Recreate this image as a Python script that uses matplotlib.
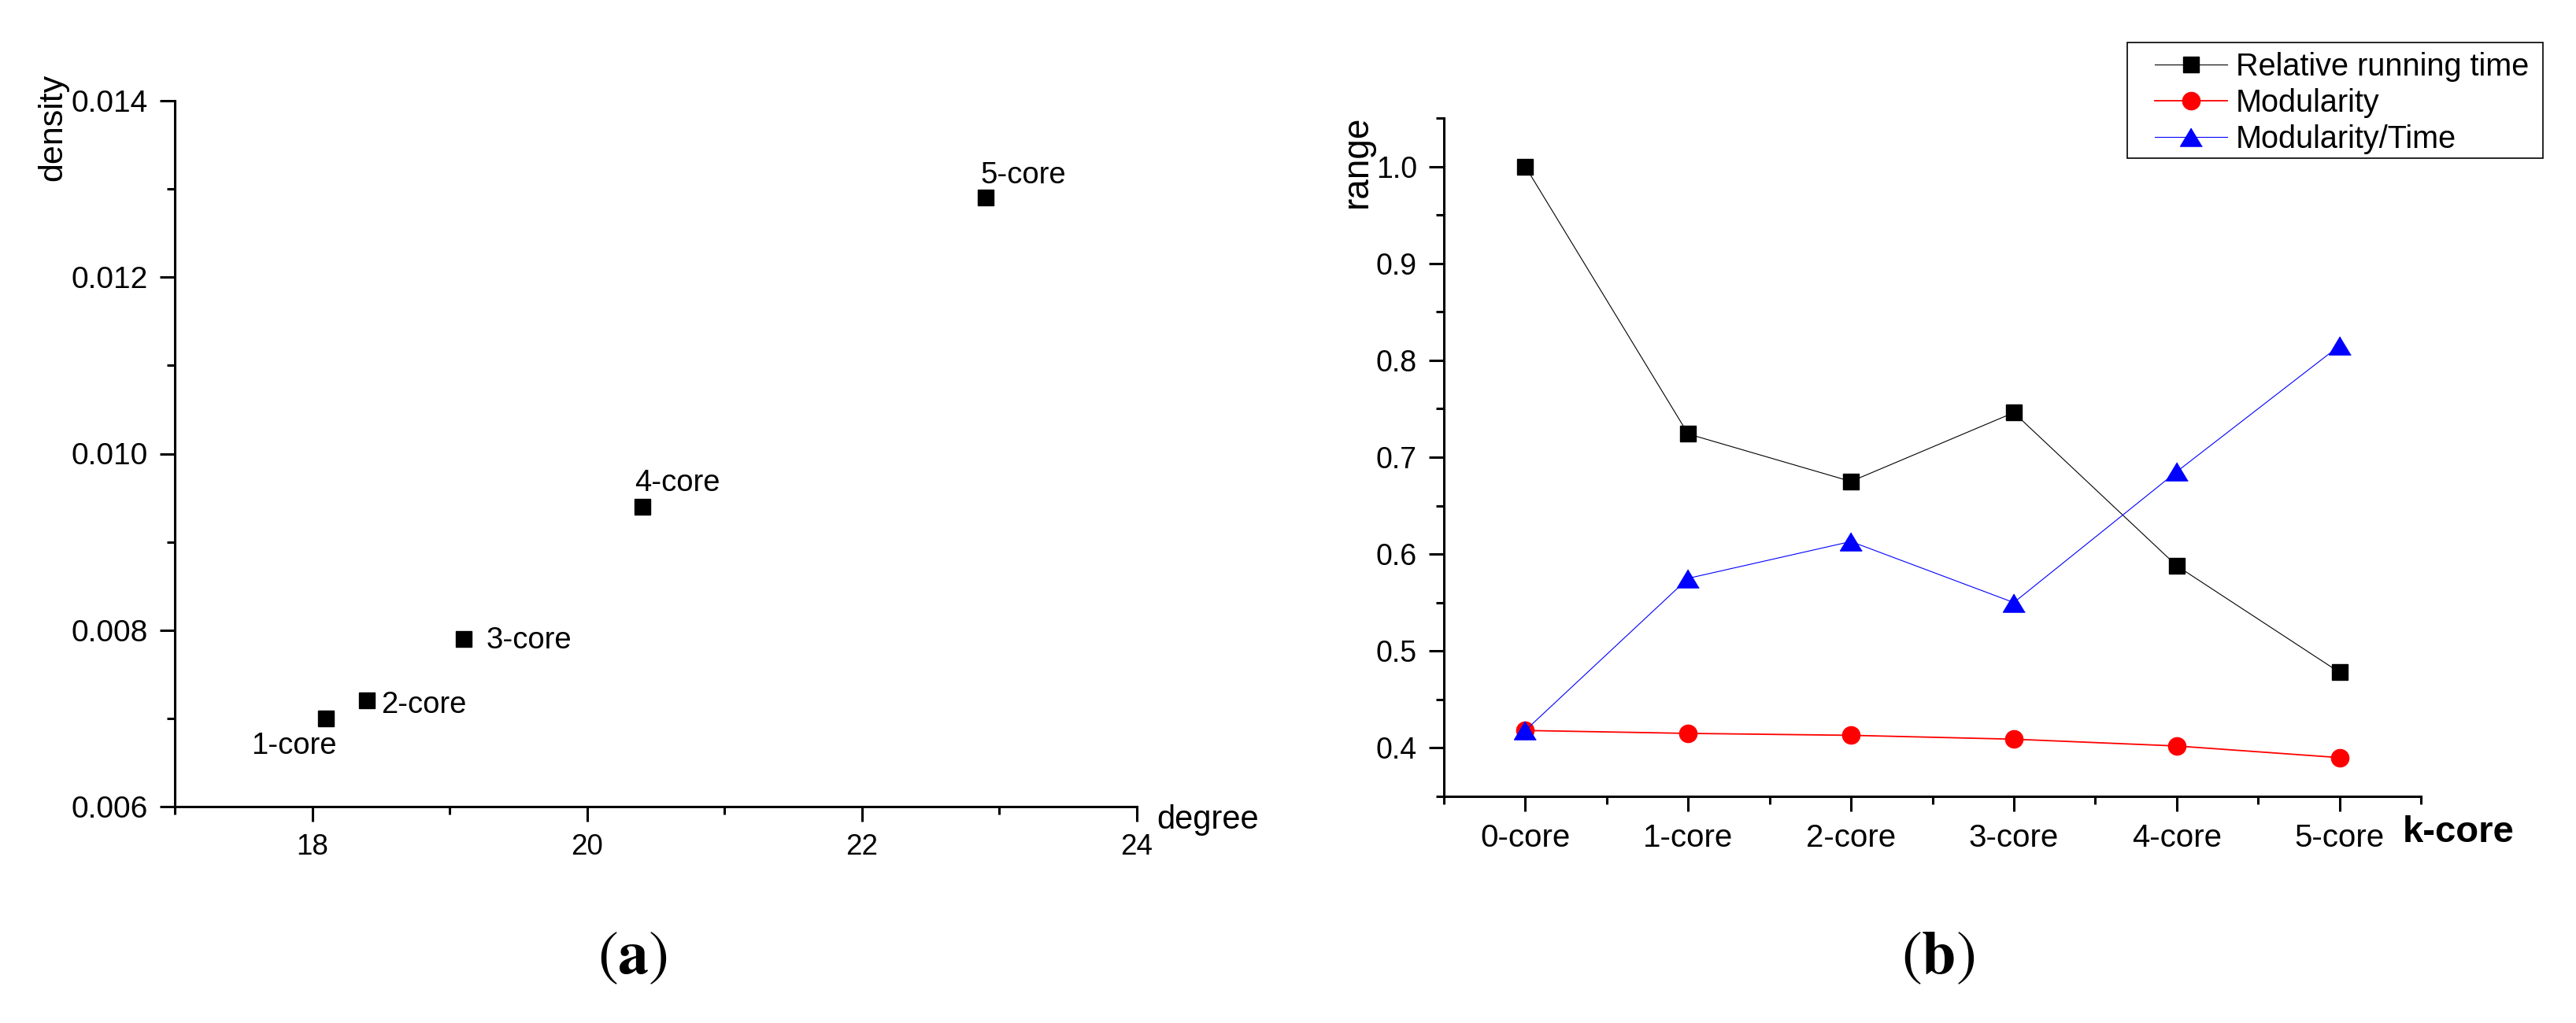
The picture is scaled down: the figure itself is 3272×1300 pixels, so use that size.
import numpy as np
import matplotlib
matplotlib.use("Agg")
import matplotlib.pyplot as plt
from matplotlib.patches import Rectangle
from matplotlib.ticker import MultipleLocator, FixedLocator

plt.rcParams['font.family'] = ['Liberation Sans', 'DejaVu Sans']
plt.rcParams['mathtext.fontset'] = 'stix'

# (a) degree vs density of each k-core
degree = [18.1, 18.4, 19.1, 20.4, 22.9]
density = [0.0070, 0.0072, 0.0079, 0.0094, 0.0129]
core_names = ["1-core", "2-core", "3-core", "4-core", "5-core"]

# (b) measures per k-core
kcores = ["0-core", "1-core", "2-core", "3-core", "4-core", "5-core"]
rel_time = [1.000, 0.724, 0.675, 0.746, 0.588, 0.478]
modularity = [0.418, 0.415, 0.413, 0.409, 0.402, 0.390]
mod_per_time = [0.418, 0.575, 0.613, 0.550, 0.685, 0.815]

# label offsets (points) and alignment for the scatter labels
label_style = [
    dict(xytext=(10, -12), ha="right", va="top"),
    dict(xytext=(13, -11), ha="left", va="baseline"),
    dict(xytext=(21, -9), ha="left", va="baseline"),
    dict(xytext=(-7, 14), ha="left", va="baseline"),
    dict(xytext=(-5, 13), ha="left", va="baseline"),
]

# a slightly wide triangle, like the Origin one
wide_tri = [(0, 1), (-1.2, -1), (1.2, -1)]

W, H = 3272, 1300
fig = plt.figure(figsize=(W / 100, H / 100), dpi=100)


def px_axes(l, t, r, b):
    return fig.add_axes([l / W, 1 - b / H, (r - l) / W, (b - t) / H])


def style_axes(ax):
    ax.spines['top'].set_visible(False)
    ax.spines['right'].set_visible(False)
    for s in ('left', 'bottom'):
        ax.spines[s].set_linewidth(2.2)
    ax.tick_params(which='major', direction='out', length=13.5, width=2.2, pad=11)
    ax.tick_params(which='minor', direction='out', length=7, width=2.2)


# ---- panel (a) ----
ax1 = px_axes(222, 128, 1444, 1025)
ax1.plot(degree, density, linestyle='none', marker='s', color='black', markersize=14)
for x, y, name, st in zip(degree, density, core_names, label_style):
    ax1.annotate(name, (x, y), textcoords='offset points', fontsize=27.5, **st)

ax1.set_xlim(17, 24)
ax1.set_ylim(0.006, 0.014)
ax1.xaxis.set_major_locator(FixedLocator([18, 20, 22, 24]))
ax1.xaxis.set_minor_locator(FixedLocator([17, 19, 21, 23]))
ax1.yaxis.set_major_locator(MultipleLocator(0.002))
ax1.yaxis.set_minor_locator(MultipleLocator(0.001))
ax1.yaxis.set_major_formatter(plt.FormatStrFormatter('%.3f'))
style_axes(ax1)
ax1.tick_params(axis='x', labelsize=26.5)
ax1.tick_params(axis='y', labelsize=28)
ax1.set_ylabel("density", fontsize=31)
ax1.yaxis.set_label_coords(-0.110, 0.962)
ax1.set_xlabel("degree", fontsize=30, ha='left', va='center')
ax1.xaxis.set_label_coords(1.021, -0.019)

# ---- panel (b) ----
ax2 = px_axes(1834, 150, 3075, 1012)
xs = np.arange(len(kcores))
ax2.plot(xs, rel_time, color='black', lw=0.8, marker='s', markersize=14,
         label="Relative running time")
ax2.plot(xs, modularity, color='red', lw=1.3, marker='o', markersize=16,
         label="Modularity")
ax2.plot(xs, mod_per_time, color='blue', lw=0.8, marker=wide_tri, markersize=20,
         label="Modularity/Time")

ax2.set_xlim(-0.5, len(kcores) - 0.5)
ax2.set_ylim(0.35, 1.05)
ax2.set_xticks(xs)
ax2.set_xticklabels(kcores)
ax2.xaxis.set_minor_locator(FixedLocator(np.arange(-0.5, len(kcores), 1.0)))
ax2.yaxis.set_major_locator(FixedLocator(np.arange(0.4, 1.01, 0.1)))
ax2.yaxis.set_minor_locator(FixedLocator(np.arange(0.35, 1.06, 0.1)))
ax2.yaxis.set_major_formatter(plt.FormatStrFormatter('%.1f'))
style_axes(ax2)
ax2.tick_params(axis='x', labelsize=29)
ax2.tick_params(axis='y', labelsize=27)
ax2.set_ylabel("range", fontsize=33)
ax2.yaxis.set_label_coords(-0.071, 0.936)
ax2.set_xlabel("k-core", fontsize=34, fontweight='bold', ha='left', va='center')
ax2.xaxis.set_label_coords(0.981, -0.053)

leg = ax2.legend(loc='upper left', bbox_to_anchor=(2737 / W, 1 - 66 / H),
                 bbox_transform=fig.transFigure, fontsize=28.5, frameon=False,
                 handlelength=2.32, handletextpad=0.28, labelspacing=0.2,
                 borderpad=0, borderaxespad=0)
# square legend frame
fig.add_artist(Rectangle((2702 / W, 1 - 201 / H), 528 / W, 147 / H,
                         transform=fig.transFigure, fill=False,
                         edgecolor='black', linewidth=1.2))

# panel captions
fig.text(803 / W, 1 - 1217 / H, r'$(\mathbf{a})$', fontsize=56, ha='center', va='center')
fig.text(2462 / W, 1 - 1217 / H, r'$(\mathbf{b})$', fontsize=56, ha='center', va='center')

fig.savefig("out.png", dpi=100)
